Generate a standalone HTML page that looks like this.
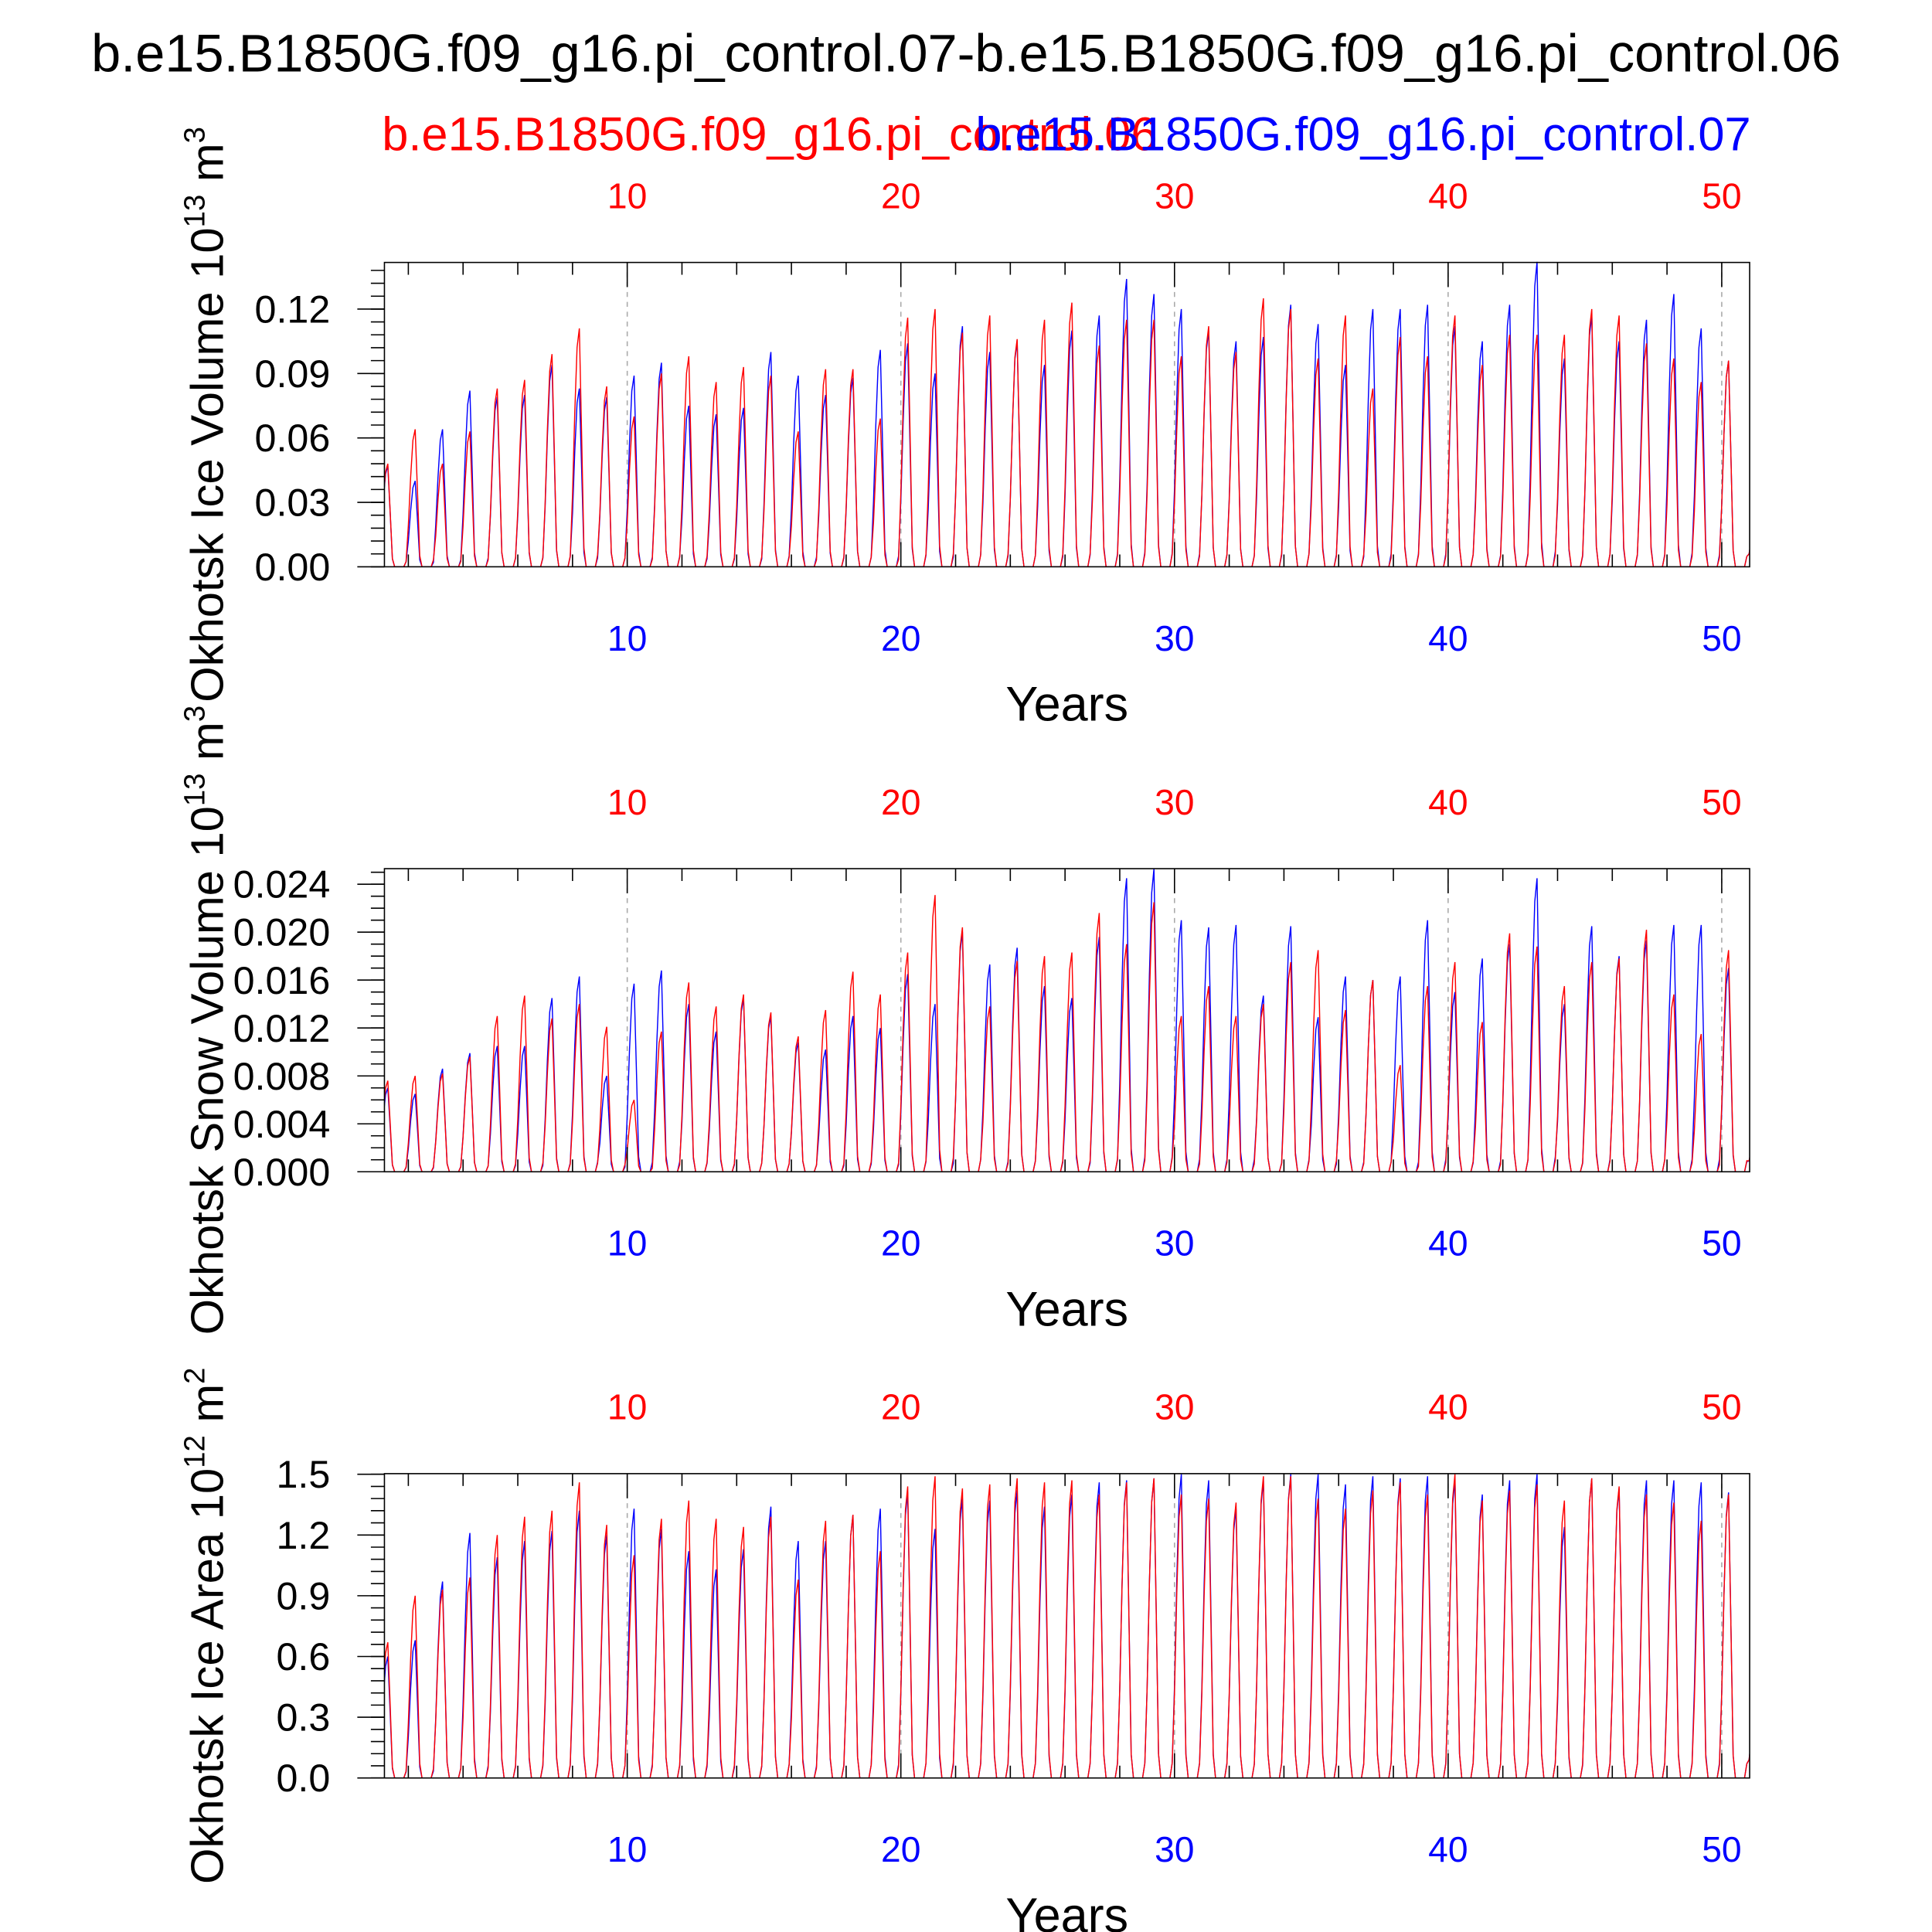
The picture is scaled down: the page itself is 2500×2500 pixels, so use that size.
<!DOCTYPE html>
<html><head><meta charset="utf-8"><style>
html,body{margin:0;padding:0;background:#fff;}
svg{display:block;font-family:"Liberation Sans",sans-serif;}
</style></head><body>
<svg id="chart" width="2500" height="2500" viewBox="0 0 1568 1568" xmlns="http://www.w3.org/2000/svg">
<text x="784" y="58" font-size="43" text-anchor="middle">b.e15.B1850G.f09_g16.pi_control.07-b.e15.B1850G.f09_g16.pi_control.06</text>
<text x="310" y="122" font-size="38.5" fill="#ff0000">b.e15.B1850G.f09_g16.pi_control.06</text>
<text x="1421" y="122" font-size="38.5" fill="#0000ff" text-anchor="end">b.e15.B1850G.f09_g16.pi_control.07</text>
</svg>
<script>
const years = [1,2,3,4,5,6,7,8,9,10,11,12,13,14,15,16,17,18,19,20,21,22,23,24,25,26,27,28,29,30,31,32,33,34,35,36,37,38,39,40,41,42,43,44,45,46,47,48,49,50,51];
const xTicks = [10,20,30,40,50];
const seasonShape = [0.3,0.65,0.92,1,0.55,0.08,0,0,0,0,0,0.05];
const iceVolRed = [0.048,0.064,0.048,0.063,0.083,0.087,0.099,0.111,0.084,0.070,0.090,0.098,0.086,0.093,0.089,0.063,0.092,0.092,0.069,0.116,0.120,0.109,0.117,0.106,0.115,0.123,0.103,0.115,0.115,0.098,0.112,0.100,0.125,0.120,0.097,0.117,0.083,0.107,0.098,0.117,0.094,0.108,0.108,0.108,0.120,0.117,0.104,0.097,0.086,0.096,0.02];
const iceVolBlue = [0.047,0.040,0.064,0.082,0.079,0.080,0.094,0.083,0.079,0.089,0.095,0.075,0.071,0.074,0.100,0.089,0.080,0.088,0.101,0.104,0.090,0.112,0.100,0.105,0.094,0.110,0.117,0.134,0.127,0.120,0.110,0.105,0.107,0.122,0.113,0.094,0.120,0.120,0.122,0.112,0.105,0.122,0.142,0.097,0.117,0.105,0.115,0.127,0.111,0.096,0.02];
const snowRed = [0.0076,0.0080,0.0082,0.0096,0.0130,0.0147,0.0128,0.0140,0.0121,0.0060,0.0117,0.0158,0.0138,0.0148,0.0133,0.0113,0.0135,0.0167,0.0148,0.0183,0.0231,0.0204,0.0138,0.0176,0.0180,0.0183,0.0216,0.0190,0.0225,0.0130,0.0155,0.0130,0.0140,0.0175,0.0185,0.0135,0.0160,0.0089,0.0155,0.0175,0.0125,0.0199,0.0188,0.0155,0.0175,0.0178,0.0202,0.0148,0.0115,0.0185,0.003];
const snowBlue = [0.0070,0.0065,0.0086,0.0099,0.0105,0.0105,0.0145,0.0163,0.0080,0.0157,0.0168,0.0140,0.0117,0.0145,0.0130,0.0108,0.0102,0.0130,0.0120,0.0165,0.0140,0.0200,0.0173,0.0187,0.0155,0.0145,0.0196,0.0245,0.0253,0.0210,0.0204,0.0206,0.0147,0.0205,0.0129,0.0163,0.0160,0.0163,0.0210,0.0150,0.0178,0.0190,0.0245,0.0140,0.0205,0.0180,0.0193,0.0206,0.0206,0.0170,0.003];
const areaRed = [0.67,0.90,0.93,0.99,1.20,1.29,1.32,1.46,1.25,1.10,1.28,1.37,1.28,1.24,1.29,0.98,1.27,1.30,1.12,1.44,1.49,1.43,1.45,1.48,1.46,1.47,1.40,1.46,1.48,1.40,1.38,1.36,1.49,1.49,1.38,1.33,1.42,1.46,1.40,1.50,1.37,1.42,1.45,1.37,1.48,1.44,1.40,1.36,1.27,1.40,0.3];
const areaBlue = [0.60,0.68,0.97,1.21,1.09,1.17,1.22,1.32,1.20,1.33,1.23,1.12,1.03,1.13,1.34,1.17,1.17,1.30,1.33,1.41,1.23,1.38,1.37,1.42,1.34,1.40,1.46,1.47,1.48,1.50,1.47,1.33,1.47,1.50,1.50,1.45,1.49,1.48,1.49,1.47,1.40,1.47,1.50,1.24,1.48,1.43,1.47,1.47,1.46,1.41,0.3];
const ticks1 = ["0.00","0.03","0.06","0.09","0.12"];
const ticks2 = ["0.000","0.004","0.008","0.012","0.016","0.020","0.024"];
const ticks3 = ["0.0","0.3","0.6","0.9","1.2","1.5"];

const NS="http://www.w3.org/2000/svg";
const svg=document.getElementById('chart');
const X0=312,X1=1420,XMIN=1.126,XMAX=51.02;
const xs=v=>X0+(v-XMIN)/(XMAX-XMIN)*(X1-X0);
function mk(tag,attrs,parent){const e=document.createElementNS(NS,tag);for(const k in attrs)e.setAttribute(k,attrs[k]);(parent||svg).appendChild(e);return e;}

const panels=[
 {top:213,bot:460,max:0.1417,step:0.03,minor:0.006,ticks:ticks1,red:iceVolRed,blue:iceVolBlue,name:'ice-volume',title:['Okhotsk Ice Volume 10','13',' m','3']},
 {top:705,bot:951,max:0.0253,step:0.004,minor:0.001,ticks:ticks2,red:snowRed,blue:snowBlue,name:'snow-volume',title:['Okhotsk Snow Volume 10','13',' m','3']},
 {top:1196,bot:1443,max:1.503,step:0.3,minor:0.06,ticks:ticks3,red:areaRed,blue:areaBlue,name:'ice-area',title:['Okhotsk Ice Area 10','12',' m','2']}
];
panels.forEach(p=>{
 const g=mk('g',{});
 
 
 const ys=v=>p.bot-v/p.max*(p.bot-p.top);
 const cid='clip-'+p.name;
 const cp=mk('clipPath',{id:cid},g);mk('rect',{x:X0,y:p.top-2,width:X1-X0,height:p.bot-p.top+2},cp);
 xTicks.forEach(t=>{const l=mk('line',{x1:xs(t),x2:xs(t),y1:p.top,y2:p.bot,stroke:'#aaa','stroke-width':1,'stroke-dasharray':'4,4'},g);
  
  });
 [['blue',p.blue,'#0000ff'],['red',p.red,'#ff0000']].forEach(([nm,arr,col])=>{
  let pts=[];
  arr.forEach((pk,i)=>{const yr=years[i];seasonShape.forEach((f,m)=>{const t=yr+(m)/12;pts.push(xs(t).toFixed(2)+','+ys(pk*f).toFixed(2));});});
  const pl=mk('polyline',{points:pts.join(' '),fill:'none',stroke:col,'stroke-width':0.9,'clip-path':'url(#'+cid+')'},g);
  
  
 });
 const fr=mk('rect',{x:X0,y:p.top,width:X1-X0,height:p.bot-p.top,fill:'none',stroke:'#000','stroke-width':1},g);
 
 
 for(let t=2;t<=50;t+=2){const maj=t%10===0;const L=maj?20:10;
  mk('line',{x1:xs(t),x2:xs(t),y1:p.top,y2:p.top+L,stroke:'#000','stroke-width':1},g);
  mk('line',{x1:xs(t),x2:xs(t),y1:p.bot,y2:p.bot-L,stroke:'#000','stroke-width':1},g);}
 xTicks.forEach(t=>{
  const a=mk('text',{x:xs(t),y:p.top-44,'font-size':29,'text-anchor':'middle',fill:'#ff0000'},g);a.textContent=t;
  
  
  const b=mk('text',{x:xs(t),y:p.bot+68,'font-size':29,'text-anchor':'middle',fill:'#0000ff'},g);b.textContent=t;
  
  
 });
 const xt=mk('text',{x:866,y:p.bot+125,'font-size':39.5,'text-anchor':'middle'},g);xt.textContent='Years';
 
 
 for(let v=0;v<=p.max+1e-9;v+=p.minor){mk('line',{x1:X0,x2:X0-11,y1:ys(v),y2:ys(v),stroke:'#000','stroke-width':1},g);}
 p.ticks.forEach((lab,i)=>{const v=i*p.step;
  mk('line',{x1:X0,x2:X0-22,y1:ys(v),y2:ys(v),stroke:'#000','stroke-width':1},g);
  const t=mk('text',{x:268,y:ys(v)+11,'font-size':31.5,'text-anchor':'end'},g);t.textContent=lab;
  
  });
 const cy=(p.top+p.bot)/2;
 const tt=mk('text',{x:0,y:0,'font-size':37.5,'text-anchor':'middle',transform:`translate(181,${cy}) rotate(-90)`},g);
 
 
 const s1=mk('tspan',{},tt);s1.textContent=p.title[0];
 const s2=mk('tspan',{dy:-15,'font-size':24},tt);s2.textContent=p.title[1];
 const s3=mk('tspan',{dy:15},tt);s3.textContent=p.title[2];
 const s4=mk('tspan',{dy:-15,'font-size':24},tt);s4.textContent=p.title[3];
});
</script>
</body></html>
